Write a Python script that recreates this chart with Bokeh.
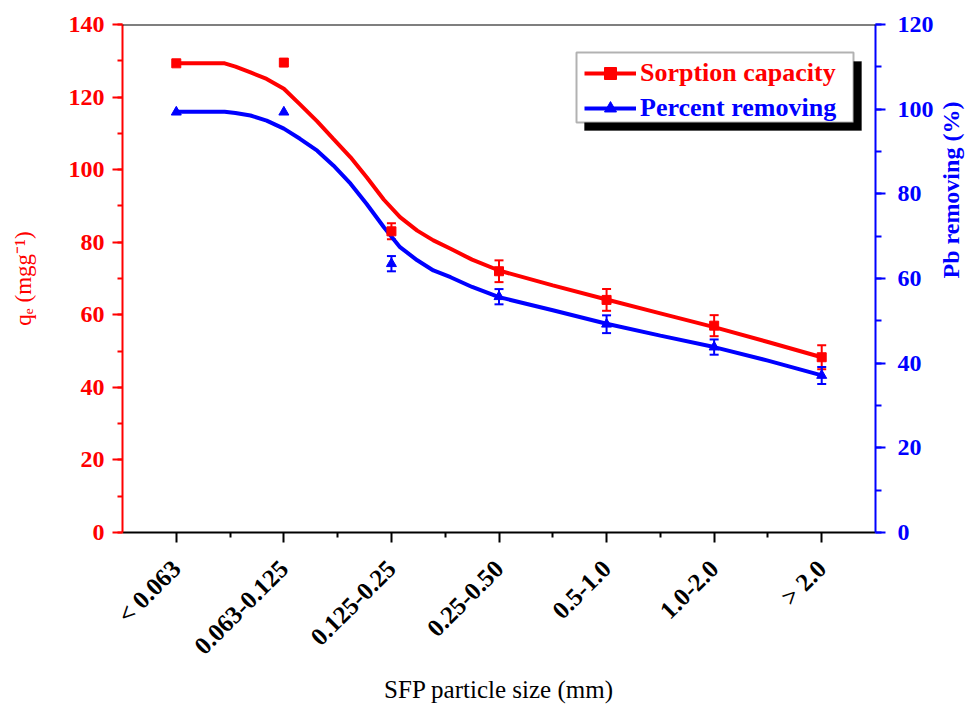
import math

from bokeh.plotting import figure
from bokeh.models import (Range1d, LinearAxis, FixedTicker, SingleIntervalTicker,
                          Whisker, TeeHead, ColumnDataSource, Legend, LegendItem,
                          BoxAnnotation, Span)
from bokeh.embed import file_html
from bokeh.resources import INLINE

# particle size classes of the SFP sorbent
categories = ["< 0.063", "0.063-0.125", "0.125-0.25", "0.25-0.50",
              "0.5-1.0", "1.0-2.0", "> 2.0"]

# measured sorption capacity q_e (mg/g) and its error
sorption = [129.3, 129.5, 83.0, 72.0, 64.1, 57.0, 48.3]
sorption_err = [0.0, 0.0, 2.2, 3.0, 3.0, 2.9, 3.3]

# measured Pb removal (%) and its error
removal = [99.3, 99.3, 63.5, 55.7, 49.2, 43.8, 37.1]
removal_err = [0.0, 0.0, 1.8, 1.8, 2.1, 1.8, 2.0]

# fitted trend curves, sampled along the size-class axis
fit_pos = [0.0, 0.45, 0.55, 0.69, 0.84, 1.0, 1.15, 1.31, 1.46, 1.62, 1.77,
           1.93, 2.08, 2.24, 2.39, 2.55, 2.75, 3.0, 3.5, 4.0, 4.5, 5.0, 5.5, 6.0]
sorption_fit = [129.3, 129.3, 128.4, 126.8, 125.0, 122.3, 118.0, 113.3, 108.5,
                103.4, 97.9, 91.7, 86.9, 83.2, 80.5, 78.2, 75.2, 72.2, 68.1,
                64.2, 60.4, 56.6, 52.5, 48.3]
removal_fit = [99.4, 99.4, 99.1, 98.5, 97.3, 95.4, 93.0, 90.2, 86.7, 82.4,
               77.6, 72.1, 67.4, 64.3, 61.9, 60.3, 58.0, 55.6, 52.5, 49.3,
               46.5, 43.8, 40.6, 37.1]

RED = "#ff0000"
BLUE = "#0000ff"
SERIF = "Liberation Serif"

xpos = list(range(len(categories)))

p = figure(width=979, height=706, output_backend="svg", toolbar_location=None,
           x_range=Range1d(-0.5, 6.5), y_range=Range1d(0, 140),
           x_axis_type=None, y_axis_type=None,
           min_border_left=122, min_border_right=103,
           min_border_top=24, min_border_bottom=174)
p.extra_y_ranges = {"pct": Range1d(0, 120)}
p.outline_line_color = None
p.background_fill_color = "white"
p.border_fill_color = "white"

# bottom category axis
xaxis = LinearAxis(
    ticker=FixedTicker(ticks=xpos, minor_ticks=[i + 0.5 for i in range(6)]),
    major_label_overrides={i: c for i, c in zip(xpos, categories)},
    major_label_orientation=math.pi / 4,
    axis_line_color="black", axis_line_width=2,
    major_tick_line_color="black", major_tick_line_width=2,
    minor_tick_line_color="black", minor_tick_line_width=2,
    major_tick_in=0, major_tick_out=10, minor_tick_in=0, minor_tick_out=5,
    major_label_standoff=22,
    major_label_text_font=SERIF, major_label_text_font_style="bold",
    major_label_text_font_size="25px", major_label_text_color="black",
    axis_label="SFP particle size (mm)", axis_label_standoff=4,
    axis_label_text_font=SERIF, axis_label_text_font_style="normal",
    axis_label_text_font_size="25px", axis_label_text_color="black")
p.add_layout(xaxis, "below")

# top frame line
p.add_layout(Span(location=140, dimension="width", line_color="black",
                  line_width=2))

# left axis: sorption capacity
yleft = LinearAxis(
    ticker=SingleIntervalTicker(interval=20, num_minor_ticks=2),
    axis_line_color=RED, axis_line_width=2,
    major_tick_line_color=RED, major_tick_line_width=2,
    minor_tick_line_color=RED, minor_tick_line_width=2,
    major_tick_in=0, major_tick_out=10, minor_tick_in=0, minor_tick_out=5,
    major_label_standoff=8,
    major_label_text_font=SERIF, major_label_text_font_style="bold",
    major_label_text_font_size="24px", major_label_text_color=RED,
    axis_label="qₑ (mgg⁻¹)", axis_label_standoff=30,
    axis_label_text_font=SERIF, axis_label_text_font_style="normal",
    axis_label_text_font_size="23px", axis_label_text_color=RED)
p.add_layout(yleft, "left")

# right axis: Pb removal
yright = LinearAxis(
    y_range_name="pct",
    ticker=SingleIntervalTicker(interval=20, num_minor_ticks=2),
    axis_line_color=BLUE, axis_line_width=2,
    major_tick_line_color=BLUE, major_tick_line_width=2,
    minor_tick_line_color=BLUE, minor_tick_line_width=2,
    major_tick_in=0, major_tick_out=10, minor_tick_in=0, minor_tick_out=6,
    major_label_standoff=12,
    major_label_text_font=SERIF, major_label_text_font_style="bold",
    major_label_text_font_size="24px", major_label_text_color=BLUE,
    axis_label="Pb removing (%)", axis_label_standoff=14,
    axis_label_text_font=SERIF, axis_label_text_font_style="bold",
    axis_label_text_font_size="24px", axis_label_text_color=BLUE)
try:
    # read the right-hand title from bottom to top, like the left one
    yright.axis_label_orientation = math.pi / 2
except Exception:
    pass
p.add_layout(yright, "right")

# fitted curves
red_line = p.line(fit_pos, sorption_fit, line_color=RED, line_width=4)
blue_line = p.line(fit_pos, removal_fit, line_color=BLUE, line_width=4,
                   y_range_name="pct")


# error bars
def error_source(vals, errs):
    keep = [i for i, e in enumerate(errs) if e > 0]
    return ColumnDataSource(dict(
        x=[xpos[i] for i in keep],
        lower=[vals[i] - errs[i] for i in keep],
        upper=[vals[i] + errs[i] for i in keep]))


for vals, errs, col, rng in [(sorption, sorption_err, RED, "default"),
                             (removal, removal_err, BLUE, "pct")]:
    w = Whisker(source=error_source(vals, errs), base="x", lower="lower",
                upper="upper", line_color=col, line_width=2,
                y_range_name=rng,
                upper_head=TeeHead(size=9, line_color=col, line_width=2),
                lower_head=TeeHead(size=9, line_color=col, line_width=2))
    p.add_layout(w)

# measured points
red_pts = p.scatter(xpos, sorption, marker="square", size=9,
                    fill_color=RED, line_color=RED)
blue_pts = p.scatter(xpos, removal, marker="triangle", size=10,
                     fill_color=BLUE, line_color=BLUE, y_range_name="pct")

# legend frame with drop shadow
p.add_layout(BoxAnnotation(left=462, right=739, top=471, bottom=402,
                           left_units="screen", right_units="screen",
                           top_units="screen", bottom_units="screen",
                           fill_color="black", fill_alpha=1.0,
                           line_color="black", line_width=1))
p.add_layout(BoxAnnotation(left=454, right=731, top=480, bottom=410,
                           left_units="screen", right_units="screen",
                           top_units="screen", bottom_units="screen",
                           fill_color="white", fill_alpha=1.0,
                           line_color="black", line_width=2))

for label, rends, col, ypos in [("Sorption capacity", [red_line, red_pts], RED, 444),
                                ("Percent removing", [blue_line, blue_pts], BLUE, 409)]:
    lg = Legend(items=[LegendItem(label=label, renderers=rends)],
                location=(462, ypos), padding=0, margin=0, spacing=0,
                glyph_width=52, glyph_height=30, label_height=30,
                label_standoff=4, border_line_color=None,
                background_fill_alpha=0.0,
                label_text_font=SERIF, label_text_font_style="bold",
                label_text_font_size="26px", label_text_color=col)
    p.add_layout(lg)

open("out.html", "w").write(file_html(p, INLINE))
